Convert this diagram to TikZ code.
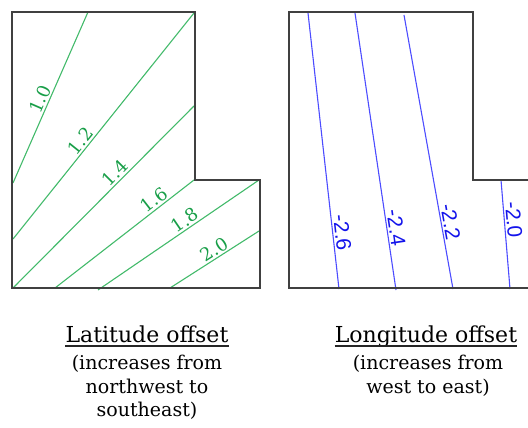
\documentclass[tikz,border=0pt]{standalone}
\usepackage{fontspec}
\setmainfont{DejaVu Serif}
\setsansfont{Liberation Sans}
\usepackage{xcolor}
\usetikzlibrary{positioning}
\definecolor{latline}{RGB}{66,186,106}
\definecolor{lattext}{RGB}{24,158,72}
\definecolor{lonline}{RGB}{76,76,255}
\definecolor{lontext}{RGB}{20,20,235}

\begin{document}
\begin{tikzpicture}[x=1pt,y=-1pt,
  rim/.style={draw=black!75,line width=1.3pt},
  latiso/.style={draw=latline,line width=1.1pt},
  loniso/.style={draw=lonline,line width=1.1pt},
  latlab/.style={sloped,above,inner sep=1.5pt,text=lattext,font=\fontsize{18}{21}\selectfont},
  lonlab/.style={sloped,above,inner sep=1.5pt,text=lontext,font=\sffamily\fontsize{21}{24}\selectfont},
  capHead/.style={anchor=base,inner sep=0pt,font=\fontsize{22}{26}\selectfont},
  capSub/.style={anchor=north,align=center,inner sep=0pt,font=\fontsize{19}{23.5}\selectfont},
  capLine/.style={draw=black!85,line width=1.2pt}]
\useasboundingbox (0,0) rectangle (528,428);
\clip (0,0) rectangle (528,428);
% latitude panel
\draw[latiso] (13,183) -- node[latlab,pos=0.47] {1.0} (88,12);
\draw[latiso] (13,239) -- node[latlab,pos=0.41] {1.2} (194,13);
\draw[latiso] (13,288) -- node[latlab,pos=0.60] {1.4} (194,106);
\draw[latiso] (55,288) -- node[latlab,pos=0.75] {1.6} (194,180);
\draw[latiso] (98,290) -- node[latlab,pos=0.57] {1.8} (259,180);
\draw[latiso] (170,288) -- node[latlab,pos=0.55] {2.0} (259,231);
\draw[rim] (12,12) -- (195,12) -- (195,180) -- (260,180) -- (260,288) -- (12,288) -- cycle;
% longitude panel
\draw[loniso] (308,13) -- node[lonlab,pos=0.80] {-2.6} (339,289);
\draw[loniso] (355,13) -- node[lonlab,pos=0.78] {-2.4} (396,290);
\draw[loniso] (404,15) -- node[lonlab,pos=0.76] {-2.2} (453,289);
\draw[loniso] (501,180) -- node[lonlab,pos=0.37] {-2.0} (510,289);
\draw[rim] (540,288) -- (289,288) -- (289,12) -- (473,12) -- (473,180) -- (540,180);
% captions
\node[capHead] (latHead) at (147,342) {Latitude offset};
\draw[capLine] ([yshift=-4pt]latHead.base west) -- ([yshift=-4pt]latHead.base east);
\node[capSub] (latSub) at (147,355) {(increases from\\northwest to\\southeast)};
\node[capHead] (lonHead) at (426,342) {Longitude offset};
\draw[capLine] ([yshift=-4pt]lonHead.base west) -- ([yshift=-4pt]lonHead.base east);
\node[capSub] (lonSub) at (428,355) {(increases from\\west to east)};
\end{tikzpicture}
\end{document}
